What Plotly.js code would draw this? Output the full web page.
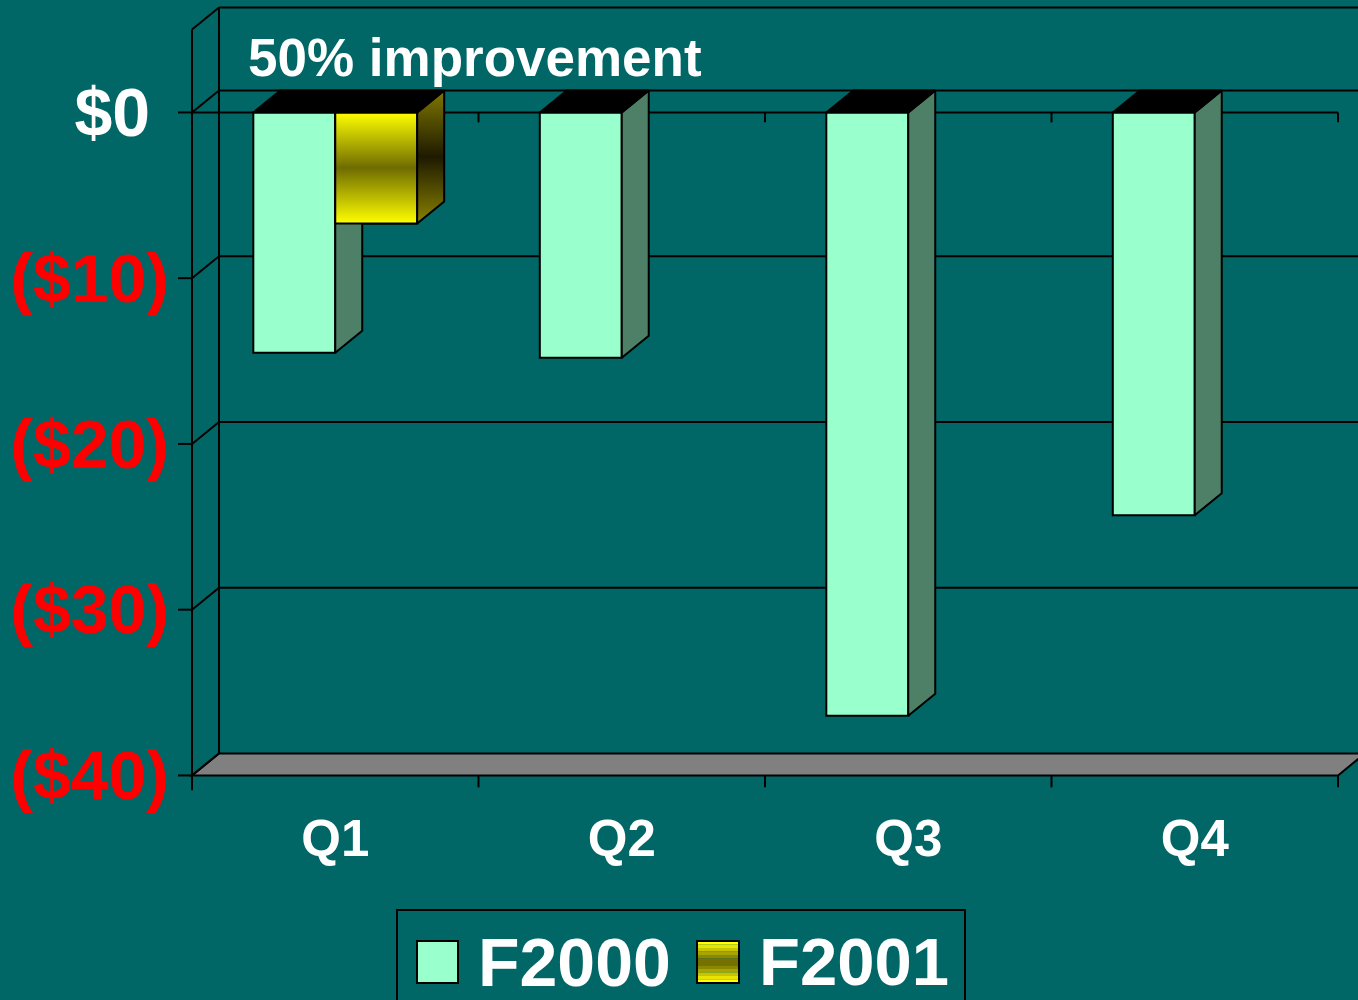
<!DOCTYPE html>
<html>
<head>
<meta charset="utf-8">
<script src="https://cdn.plot.ly/plotly-3.0.1.min.js"></script>
<style>html,body{margin:0;padding:0;background:#006666;}#chart{width:1358px;height:1000px;}</style>
</head>
<body>
<div id="chart"></div>
<script>
// ---- data ----
const quarters = ['Q1', 'Q2', 'Q3', 'Q4'];
const f2000 = [-14.5, -14.8, -36.4, -24.3];
const f2001 = [-6.7, null, null, null];
const seriesNames = ['F2000', 'F2001'];
const yTickVals = [0, -10, -20, -30, -40];
const yTickText = ['$0', '($10)', '($20)', '($30)', '($40)'];
const noteText = '50% improvement';

// ---- style / geometry ----
const BG = '#006666';
const C2000 = '#99FFCC', C2000side = '#4D8066';
const BW = 0.286;            // bar width (x units)
const DX = 0.0942, DY = 1.327; // 3D depth offset
const XMIN = -0.5768, XMAX = 3.5698, YMIN = -41, YMAX = 6.783;
const YTOP = 5;              // top of walls (front)
const FONT = 'Liberation Sans, Arial, sans-serif';
const xIdx = quarters.map((q, i) => i);
const px2x = p => (p - 170) / 1188;
const py2y = p => (792 - p) / 792;

function polys(vals, leftOff, kind) {
  const xs = [], ys = [];
  vals.forEach((v, i) => {
    if (v === null || v === undefined) return;
    const xl = i + leftOff, xr = xl + BW;
    let pts;
    if (kind === 'side') pts = [[xr, 0], [xr, v], [xr + DX, v + DY], [xr + DX, DY], [xr, 0]];
    else if (kind === 'top') pts = [[xl, 0], [xr, 0], [xr + DX, DY], [xl + DX, DY], [xl, 0]];
    else pts = [[xl, 0], [xr, 0], [xr, v], [xl, v], [xl, 0]];
    pts.forEach(p => { xs.push(p[0]); ys.push(p[1]); });
    xs.push(null); ys.push(null);
  });
  return {x: xs, y: ys};
}

const frontGrad = [[0, '#ffff00'], [0.5, '#6f6c00'], [1, '#ffff00']];
const sideGrad = [[0, '#8a8200'], [0.5, '#1e1a00'], [1, '#807800']];

const traces = [
  {type: 'bar', name: seriesNames[0], x: xIdx, y: f2000, width: BW, offset: -BW,
   marker: {color: C2000, line: {color: '#000', width: 2}}, hoverinfo: 'skip', showlegend: false},
  {type: 'bar', name: seriesNames[1], x: xIdx, y: f2001, width: BW, offset: 0,
   marker: {color: '#ffff00', line: {color: '#000', width: 2}}, hoverinfo: 'skip', showlegend: false},
];
const s2000 = polys(f2000, -BW, 'side');
traces.push({type: 'scatter', mode: 'lines', x: s2000.x, y: s2000.y, fill: 'toself', fillcolor: C2000side,
  line: {color: '#000', width: 2}, hoverinfo: 'skip', showlegend: false});
const t2000 = polys(f2000, -BW, 'top');
traces.push({type: 'scatter', mode: 'lines', x: t2000.x, y: t2000.y, fill: 'toself', fillcolor: '#000',
  line: {color: '#000', width: 2}, hoverinfo: 'skip', showlegend: false});
const fr2001 = polys(f2001, 0, 'front');
traces.push({type: 'scatter', mode: 'lines', x: fr2001.x, y: fr2001.y, fill: 'toself',
  fillgradient: {type: 'vertical', colorscale: frontGrad},
  line: {color: '#000', width: 2}, hoverinfo: 'skip', showlegend: false});
const s2001 = polys(f2001, 0, 'side');
traces.push({type: 'scatter', mode: 'lines', x: s2001.x, y: s2001.y, fill: 'toself',
  fillgradient: {type: 'vertical', colorscale: sideGrad},
  line: {color: '#000', width: 2}, hoverinfo: 'skip', showlegend: false});
const t2001 = polys(f2001, 0, 'top');
traces.push({type: 'scatter', mode: 'lines', x: t2001.x, y: t2001.y, fill: 'toself', fillcolor: '#000',
  line: {color: '#000', width: 2}, hoverinfo: 'skip', showlegend: false});

// ---- frame shapes ----
const L = (x0, y0, x1, y1, w) => ({type: 'line', xref: 'x', yref: 'y', x0, y0, x1, y1, layer: 'below',
  line: {color: '#000', width: w || 2}});
const shapes = [];
const ymin = yTickVals[yTickVals.length - 1];
// floor
shapes.push({type: 'path', xref: 'x', yref: 'y', layer: 'below', fillcolor: '#808080',
  line: {color: '#000', width: 2},
  path: `M${-0.5},${ymin} L${3.5},${ymin} L${3.5 + DX},${ymin + DY} L${-0.5 + DX},${ymin + DY} Z`});
yTickVals.forEach(g => {
  if (g !== ymin) shapes.push(L(-0.5 + DX, g + DY, XMAX, g + DY));
  shapes.push(L(-0.5, g, -0.5 + DX, g + DY));
  shapes.push(L(-0.5 - 14 / 286.5, g, -0.5, g));
});
shapes.push(L(-0.5 + DX, ymin + DY, -0.5 + DX, YTOP + DY));
shapes.push(L(-0.5, YTOP, -0.5 + DX, YTOP + DY));
shapes.push(L(-0.5 + DX, YTOP + DY, XMAX, YTOP + DY));
shapes.push(L(-0.5, YTOP, -0.5, ymin - 0.9));
shapes.push(L(-0.5, 0, 3.5, 0));
[0.5, 1.5, 2.5, 3.5].forEach(b => shapes.push(L(b, 0, b, -0.6)));
[-0.5, 0.5, 1.5, 2.5, 3.5].forEach(b => shapes.push(L(b, ymin, b, ymin - 0.72)));

// ---- manual legend ----
shapes.push({type: 'rect', xref: 'paper', yref: 'paper', x0: px2x(397), x1: px2x(965), y0: py2y(910), y1: py2y(1010),
  line: {color: '#000', width: 2}, fillcolor: BG});
shapes.push({type: 'rect', xref: 'paper', yref: 'paper', x0: px2x(417), x1: px2x(458), y0: py2y(941), y1: py2y(983),
  line: {color: '#000', width: 2}, fillcolor: C2000});
// striped gradient swatch for F2001
const stripes = ['#ffff00', '#e6e400', '#c8c500', '#a8a500', '#8a8700', '#747100', '#747100', '#8a8700', '#a8a500', '#c8c500', '#e6e400', '#ffff00'];
const sy0 = 941, sy1 = 983, sh = (sy1 - sy0) / stripes.length;
stripes.forEach((c, k) => shapes.push({type: 'rect', xref: 'paper', yref: 'paper', x0: px2x(697), x1: px2x(739),
  y0: py2y(sy0 + k * sh), y1: py2y(sy0 + (k + 1) * sh), line: {width: 0}, fillcolor: c}));
shapes.push({type: 'rect', xref: 'paper', yref: 'paper', x0: px2x(697), x1: px2x(739), y0: py2y(941), y1: py2y(983),
  line: {color: '#000', width: 2}, fillcolor: 'rgba(0,0,0,0)'});

const annotations = [
  {xref: 'paper', yref: 'paper', x: px2x(246), y: py2y(58), xanchor: 'left', yanchor: 'middle', showarrow: false,
   text: noteText, font: {family: FONT, size: 53, color: '#ffffff', weight: 'bold'}},
  {xref: 'paper', yref: 'paper', x: px2x(476), y: py2y(962), xanchor: 'left', yanchor: 'middle', showarrow: false,
   text: seriesNames[0], font: {family: FONT, size: 68, color: '#ffffff', weight: 'bold'}},
  {xref: 'paper', yref: 'paper', x: px2x(757), y: py2y(962), xanchor: 'left', yanchor: 'middle', showarrow: false,
   text: seriesNames[1], font: {family: FONT, size: 67, color: '#ffffff', weight: 'bold'}},
];

const yText = yTickText.map((t, i) => yTickVals[i] >= 0 ? '<span style="color:#ffffff">' + t + '\u00A0</span>' : t);

const layout = {
  width: 1358, height: 1000,
  paper_bgcolor: BG, plot_bgcolor: BG,
  margin: {l: 170, r: 0, t: 0, b: 208, pad: 0},
  barmode: 'overlay',
  showlegend: false,
  xaxis: {range: [XMIN, XMAX], tickmode: 'array', tickvals: xIdx, ticktext: quarters, ticks: '',
    showgrid: false, zeroline: false, showline: false, ticklabelstandoff: 12,
    tickfont: {family: FONT, size: 51, color: '#ffffff', weight: 'bold'}, fixedrange: true},
  yaxis: {range: [YMIN, YMAX], tickmode: 'array', tickvals: yTickVals, ticktext: yText, ticks: '',
    showgrid: false, zeroline: false, showline: false, ticklabelstandoff: 0,
    tickfont: {family: FONT, size: 68, color: '#ff0000', weight: 'bold'}, fixedrange: true},
  shapes: shapes,
  annotations: annotations,
};

Plotly.newPlot('chart', traces, layout, {displayModeBar: false, staticPlot: true});
</script>
</body>
</html>
